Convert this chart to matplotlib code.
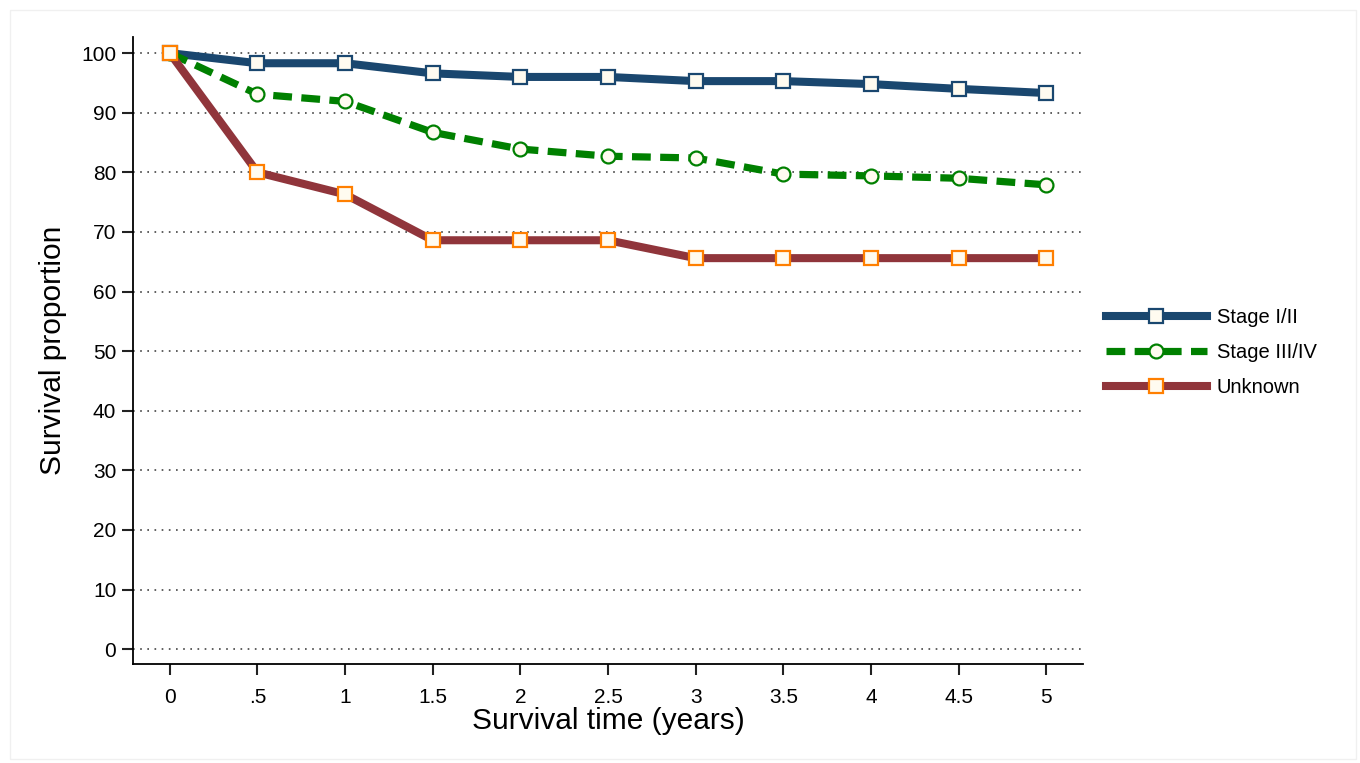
import matplotlib
matplotlib.use('Agg')
import matplotlib.pyplot as plt

# tempos (anos) e proporções de sobrevivência
anos = [0, 0.5, 1, 1.5, 2, 2.5, 3, 3.5, 4, 4.5, 5]
rotulos_x = ['0', '.5', '1', '1.5', '2', '2.5', '3', '3.5', '4', '4.5', '5']

estagio_1_2 = [100, 98.3, 98.3, 96.6, 96.0, 96.0, 95.3, 95.3, 94.8, 94.0, 93.3]
estagio_3_4 = [100, 93.1, 91.9, 86.7, 83.9, 82.7, 82.4, 79.7, 79.4, 79.0, 77.9]
desconhecido = [100, 80.0, 76.3, 68.6, 68.6, 68.6, 65.6, 65.6, 65.6, 65.6, 65.6]

rotulos_y = list(range(0, 101, 10))

plt.rcParams['font.family'] = ['Liberation Sans', 'DejaVu Sans']

fig = plt.figure(figsize=(13.6, 7.63), dpi=100)
ax = fig.add_axes([0.0978, 0.1297, 0.6985, 0.8218])

creme = '#fffbf0'

ax.plot(anos, estagio_1_2, color='#1a476f', lw=5.8, marker='s', ms=10,
        mfc=creme, mec='#1a476f', mew=1.6, label='Stage I/II', zorder=3)
ax.plot(anos, estagio_3_4, color='#008000', lw=5.2, dashes=(2.6, 1.3),
        marker='o', ms=10, mfc=creme, mec='#008000', mew=1.6,
        label='Stage III/IV', zorder=3)
ax.plot(anos, desconhecido, color='#90353b', lw=5.8, marker='s', ms=10,
        mfc=creme, mec='#ff7f00', mew=1.6, label='Unknown', zorder=4)

ax.set_xlim(-0.21, 5.21)
ax.set_ylim(-2.5, 102.7)
ax.set_xticks(anos)
ax.set_xticklabels(rotulos_x)
ax.set_yticks(rotulos_y)
ax.tick_params(axis='both', labelsize=15, length=8, width=1.5, color='#222222')
ax.tick_params(axis='x', pad=9)
ax.tick_params(axis='y', pad=4)

ax.spines['top'].set_visible(False)
ax.spines['right'].set_visible(False)
ax.spines['left'].set_linewidth(1.3)
ax.spines['bottom'].set_linewidth(1.3)

ax.yaxis.grid(True, linestyle=(0, (1, 3.3)), color='#444444', lw=1.2)
ax.set_axisbelow(True)

ax.set_xlabel('Survival time (years)', fontsize=21.5, labelpad=0)
ax.set_ylabel('Survival proportion', fontsize=21.5, labelpad=10)

fig.legend(loc='center left', bbox_to_anchor=(0.8, 0.538), frameon=False,
           fontsize=14.5, handlelength=5, labelspacing=0.8, handletextpad=0.5)

# moldura clara em volta da figura
fig.patches.append(plt.Rectangle((0.007, 0.005), 0.99, 0.982, transform=fig.transFigure,
                                 fill=False, ec='#f0f0f0', lw=1))

fig.savefig('out.png', dpi=100)
